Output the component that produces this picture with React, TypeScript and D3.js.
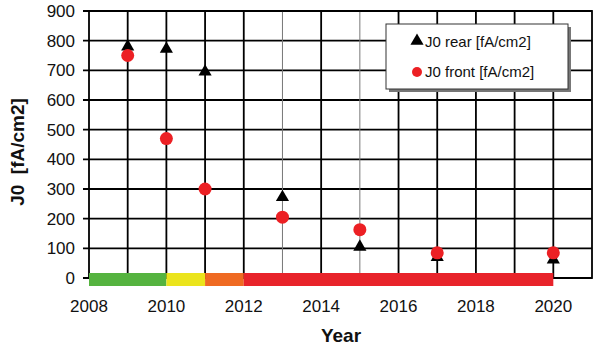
import React from 'react';
import * as d3 from 'd3';

const years = [2009, 2010, 2011, 2013, 2015, 2017, 2020];
const rearJ0 = [780, 772, 695, 272, 105, 70, 62];
const frontJ0 = [750, 470, 300, 205, 163, 85, 85];
const yTicks = [0, 100, 200, 300, 400, 500, 600, 700, 800, 900];
const xTickLabels = [2008, 2010, 2012, 2014, 2016, 2018, 2020];
const gridYears = [2009, 2010, 2011, 2012, 2013, 2014, 2015, 2016, 2017, 2018, 2019, 2020];
const thinYears = [2013, 2015];
const phases = [
  { from: 2008, to: 2010, color: '#55b33f' },
  { from: 2010, to: 2011, color: '#ebe41c' },
  { from: 2011, to: 2012, color: '#ef6a22' },
  { from: 2012, to: 2020, color: '#e8232a' },
];

const W = 600;
const H = 351;

export default function App() {
  const x = d3.scaleLinear().domain([2008, 2021]).range([89, 592]);
  const y = d3.scaleLinear().domain([0, 900]).range([278, 11]);
  const font = 'Liberation Sans, Arial, sans-serif';
  const tri = d3.symbol().type(d3.symbolTriangle).size(75)();

  return (
    <svg width={W} height={H} style={{ position: 'absolute', left: 0, top: 0, background: '#fff' }}>
      {/* horizontal gridlines */}
      {yTicks.map((t) => (
        <line key={'h' + t} x1={83} x2={x(2021)} y1={y(t)} y2={y(t)} stroke="#000" strokeWidth={1.8} />
      ))}
      {/* vertical gridlines */}
      {gridYears.map((yr) => {
        const thin = thinYears.includes(yr);
        return (
          <line
            key={'v' + yr}
            x1={x(yr)}
            x2={x(yr)}
            y1={y(900)}
            y2={y(0)}
            stroke={thin ? '#777' : '#000'}
            strokeWidth={thin ? 1 : 1.8}
          />
        );
      })}
      {/* frame */}
      <rect x={x(2008)} y={y(900)} width={x(2021) - x(2008)} height={y(0) - y(900)} fill="none" stroke="#000" strokeWidth={1.8} />

      {/* phase bar */}
      {phases.map((p) => (
        <rect key={p.from} x={x(p.from)} y={y(0) - 5} width={x(p.to) - x(p.from)} height={13} fill={p.color} />
      ))}

      {/* y tick labels */}
      {yTicks.map((t) => (
        <text key={'yl' + t} x={75} y={y(t)} dy="0.35em" textAnchor="end" fontFamily={font} fontSize={17} fill="#111">
          {t}
        </text>
      ))}
      {/* x tick labels */}
      {xTickLabels.map((t) => (
        <text key={'xl' + t} x={x(t)} y={312} textAnchor="middle" fontFamily={font} fontSize={17} fill="#111">
          {t}
        </text>
      ))}

      {/* axis titles */}
      <text x={341} y={342} textAnchor="middle" fontFamily={font} fontSize={19} fontWeight="bold" fill="#111">
        Year
      </text>
      <text
        transform={`translate(24,152) rotate(-90)`}
        textAnchor="middle"
        fontFamily={font}
        fontSize={19}
        fontWeight="bold"
        fill="#111"
        style={{ whiteSpace: 'pre' }}
      >
        {'J0  [fA/cm2]'}
      </text>

      {/* markers */}
      {years.map((yr, i) => (
        <path key={'r' + yr} d={tri!} transform={`translate(${x(yr)},${y(rearJ0[i])})`} fill="#000" />
      ))}
      {years.map((yr, i) => (
        <circle key={'f' + yr} cx={x(yr)} cy={y(frontJ0[i])} r={6.5} fill="#ec2024" />
      ))}

      {/* legend */}
      <rect x={389} y={27} width={182} height={65} fill="#777" />
      <rect x={386} y={24} width={182} height={65} fill="#fff" stroke="#333" strokeWidth={1} />
      <path d={tri!} transform="translate(417,41)" fill="#000" />
      <text x={425} y={47} fontFamily={font} fontSize={15} fill="#111">
        J0 rear [fA/cm2]
      </text>
      <circle cx={417} cy={72} r={5} fill="#ec2024" />
      <text x={425} y={77} fontFamily={font} fontSize={15} fill="#111">
        J0 front [fA/cm2]
      </text>
    </svg>
  );
}
